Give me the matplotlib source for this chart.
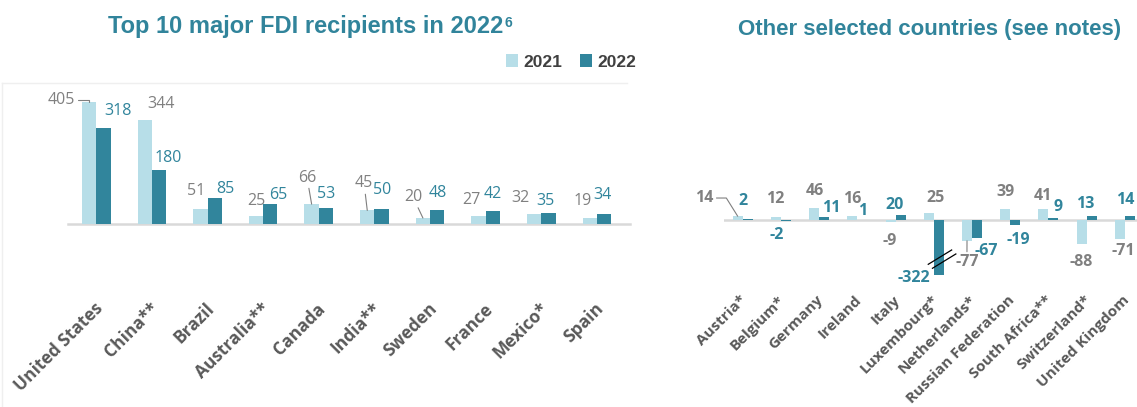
import matplotlib
matplotlib.use("Agg")
import matplotlib.pyplot as plt
import numpy as np
from matplotlib.lines import Line2D
from matplotlib import transforms

# ---- data (USD billions) ----
top_countries = ["United States", "China**", "Brazil", "Australia**", "Canada",
                 "India**", "Sweden", "France", "Mexico*", "Spain"]
top_2021 = [405, 344, 51, 25, 66, 45, 20, 27, 32, 19]
top_2022 = [318, 180, 85, 65, 53, 50, 48, 42, 35, 34]

other_countries = ["Austria*", "Belgium*", "Germany", "Ireland", "Italy", "Luxembourg*",
                   "Netherlands*", "Russian Federation", "South Africa**", "Switzerland*",
                   "United Kingdom"]
other_2021 = [14, 12, 46, 16, -9, 25, -77, 39, 41, -88, -71]
other_2022 = [2, -2, 11, 1, 20, -322, -67, -19, 9, 13, 14]

years = ["2021", "2022"]

# ---- label placement (pixel offsets of label centre from bar end) ----
top_off_2021 = [(-28, 1.6), (15.8, 16), (-3.8, 17.6), (0, 15.5), (-4.6, 26.6),
                (-3.2, 27), (-9.9, 21), (-7.5, 15.9), (-13.7, 15.9), (-6.8, 16.8)]
top_off_2022 = [(15.1, 16.8), (9, 12.3), (10.4, 9.4), (8.2, 9.4), (0.6, 14),
                (0.4, 19), (0.8, 16.6), (0.2, 16.9), (-3, 12.5), (-2.1, 18.3)]
other_off_2021 = [(-33.2, 18.2), (-0.4, 17.8), (0.3, 16.1), (-0.4, 16.7), (-0.6, -18.6),
                  (7.1, 14.8), (-0.1, -21.7), (0.2, 17.5), (-0.5, 13.4), (-0.8, -18.7),
                  (3, -11.8)]
other_off_2022 = [(-4.7, 18.5), (-8.9, -14.5), (7.3, 9.5), (0.6, 8.7), (-6.1, 9.6),
                  (-25.4, -2.6), (8.9, -12.9), (2.7, -14.9), (4.5, 10.1), (-6.8, 12),
                  (-5, 16.7)]

# leader lines: index -> connection style
top_leaders_2021 = {0: ("angle,angleA=0,angleB=90,rad=0", (1, 0.5)),
                    4: ("arc3", (0.5, 0.5)),
                    5: ("arc3", (0.5, 0.5)),
                    6: ("arc3", (0.5, 0.5))}
other_leaders_2021 = {0: ("angle,angleA=0,angleB=122,rad=0", (1, 0.5)),
                      6: ("arc3", (0.5, 0.5))}

# ---- styling ----
LIGHT = "#b7dee8"
DARK = "#31859c"
GRAY_LBL = "#808080"
TEAL_LBL = "#31859c"
TICK = "#595959"
TITLE = "#31849b"
BASE = "#d9d9d9"
FONT = ["Open Sans", "DejaVu Sans"]
TFONT = ["Liberation Sans", "DejaVu Sans"]

W, H = 1137, 407
fig = plt.figure(figsize=(W / 100, H / 100), dpi=100)
fig.patch.set_facecolor("white")


def fx(p):
    return p / W


def fy(p):
    return 1 - p / H


def clean(ax):
    for s in ax.spines.values():
        s.set_visible(False)
    ax.set_xticks([])
    ax.set_yticks([])
    ax.patch.set_alpha(0)


def labels(ax, xs, vals, ends, offsets, color, weight, size, leaders=None):
    leaders = leaders or {}
    for i, (x, v, e, (dx, dy)) in enumerate(zip(xs, vals, ends, offsets)):
        kw = {}
        if i in leaders:
            cs, rel = leaders[i]
            kw["arrowprops"] = dict(arrowstyle="-", color="#7f7f7f", lw=0.8,
                                    shrinkA=0, shrinkB=0, connectionstyle=cs,
                                    relpos=rel)
        ax.annotate(f"{v}", xy=(x, e), xytext=(dx, dy), textcoords="offset pixels",
                    ha="center", va="center", color=color, fontsize=size,
                    fontweight=weight, family=FONT, annotation_clip=False, **kw)


def tick_labels(ax, xs, names, y_px, dx_px, size):
    tr = transforms.blended_transform_factory(ax.transData, fig.transFigure)
    off = transforms.ScaledTranslation(dx_px / 100, 0, fig.dpi_scale_trans)
    for x, name in zip(xs, names):
        ax.text(x, fy(y_px), name, transform=tr + off, rotation=45,
                rotation_mode="anchor", ha="right", va="center", color=TICK,
                fontsize=size, fontweight="bold", family=FONT)


# ======== left panel: top 10 recipients ========
bw = 0.257
x1 = np.arange(len(top_countries))
ax1 = fig.add_axes([fx(68.4), fy(224), (624.8 - 68.4) / W, (224 - 84) / H])
clean(ax1)
ax1.set_xlim(-0.5, len(top_countries) - 0.5)
ax1.set_ylim(0, 140 / 0.301)
b21 = ax1.bar(x1 - bw / 2, top_2021, bw, color=LIGHT, zorder=2, label=years[0])
b22 = ax1.bar(x1 + bw / 2, top_2022, bw, color=DARK, zorder=2, label=years[1])
ax1.axhline(0, xmin=0, xmax=1.01, color=BASE, lw=1.8, zorder=1, clip_on=False)
labels(ax1, x1 - bw / 2, top_2021, top_2021, top_off_2021, GRAY_LBL, "normal", 11.5,
       top_leaders_2021)
labels(ax1, x1 + bw / 2, top_2022, top_2022, top_off_2022, TEAL_LBL, "normal", 11.5)
tick_labels(ax1, x1, top_countries, 306, 4, 12.5)

# faint panel frame
fig.add_artist(Line2D([fx(2), fx(627)], [fy(82.5), fy(82.5)], color="#efefef", lw=1))
fig.add_artist(Line2D([fx(1.5), fx(1.5)], [fy(82.5), 0], color="#efefef", lw=1))

t1 = fig.text(fx(306), fy(26), "Top 10 major FDI recipients in 2022", ha="center",
              va="center", color=TITLE, fontsize=17, fontweight="bold", family=TFONT)
ax1.annotate("6", xy=(1, 0.95), xycoords=t1, xytext=(1, 0), textcoords="offset pixels",
             ha="left", va="top", color=TITLE, fontsize=10, fontweight="bold",
             family=TFONT, annotation_clip=False)

fig.legend(handles=[b21, b22], labels=years, loc="center",
           bbox_to_anchor=(fx(571), fy(62)), ncol=2, frameon=False,
           handlelength=0.7, handleheight=0.7, handletextpad=0.3, columnspacing=1.0,
           borderaxespad=0, borderpad=0,
           prop={"family": TFONT, "weight": "bold", "size": 12.5},
           labelcolor="#404040")

# ======== right panel: other selected countries ========
bw2 = 0.262
x2 = np.arange(len(other_countries))
scale2 = 0.27                     # pixels per unit
floor2 = -205                     # visible limit of the broken bar
ax2 = fig.add_axes([fx(723.6), fy(220 - floor2 * scale2),
                    (1144 - 723.6) / W, (220 - floor2 * scale2 - 150) / H])
clean(ax2)
ax2.set_xlim(-0.5, len(other_countries) - 0.5)
ax2.set_ylim(floor2, 70 / scale2)
ax2.bar(x2 - bw2 / 2, other_2021, bw2, color=LIGHT, zorder=2)
ax2.bar(x2 + bw2 / 2, other_2022, bw2, color=DARK, zorder=2)
ax2.axhline(0, color=BASE, lw=1.8, zorder=1)

ends_2021 = [max(v, floor2) for v in other_2021]
ends_2022 = [max(v, floor2) for v in other_2022]
labels(ax2, x2 - bw2 / 2, other_2021, ends_2021, other_off_2021, GRAY_LBL, "bold", 11.5,
       other_leaders_2021)
labels(ax2, x2 + bw2 / 2, other_2022, ends_2022, other_off_2022, TEAL_LBL, "bold", 11.5)

# axis-break marks across the truncated bar
ib = int(np.argmin(other_2022))
xc = x2[ib] + bw2 / 2
for cx, cy in [(xc + 0.03, floor2 * 0.671), (xc + 0.14, floor2 * 0.743)]:
    ax2.plot([cx - 0.306, cx + 0.306], [cy - 26.5, cy + 26.5], color="black", lw=0.9,
             zorder=4, clip_on=False)

tick_labels(ax2, x2, other_countries, 298, 2, 11)

fig.text(fx(929.5), fy(29), "Other selected countries (see notes)", ha="center",
         va="center", color=TITLE, fontsize=16, fontweight="bold", family=TFONT)

fig.savefig("out.png", dpi=100, facecolor="white")
